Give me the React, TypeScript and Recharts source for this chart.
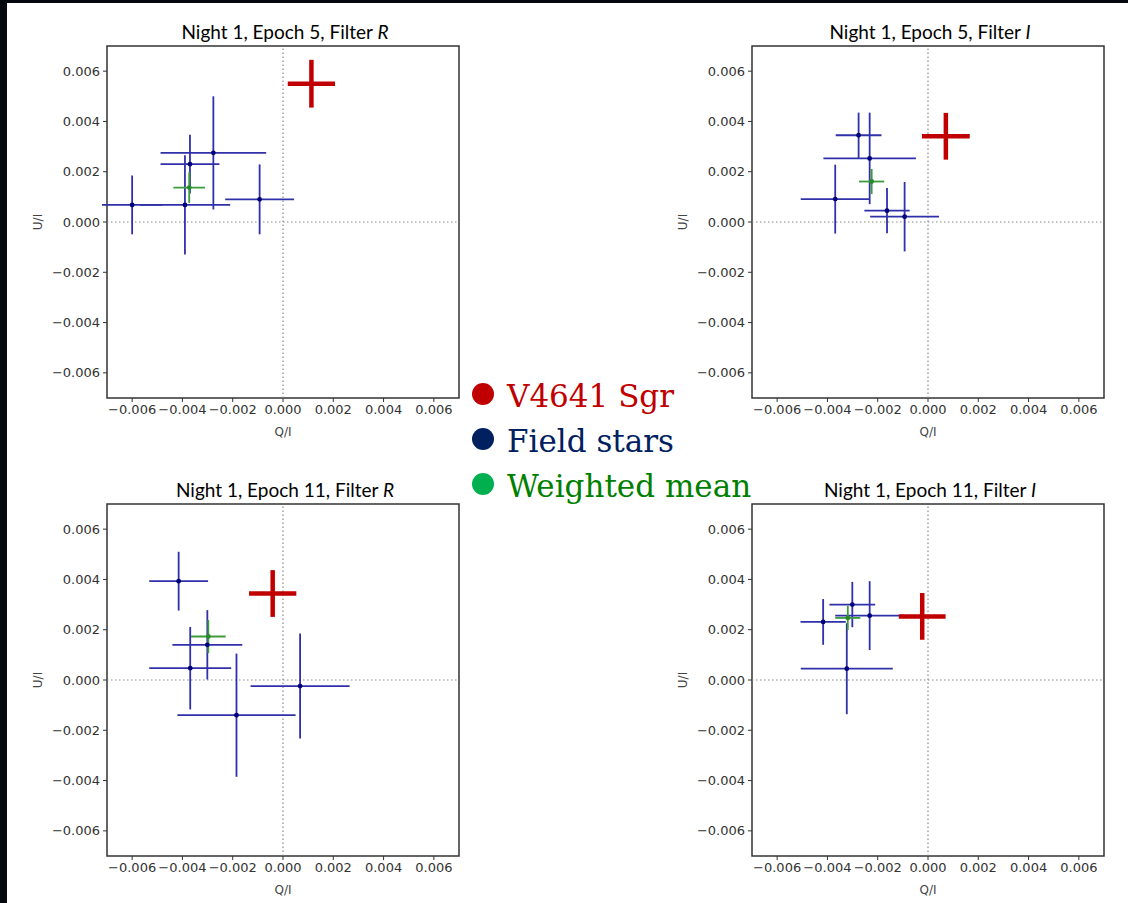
import React from 'react';
import {
  ScatterChart,
  Scatter,
  XAxis,
  YAxis,
  ErrorBar,
  ReferenceLine,
  ReferenceArea,
} from 'recharts';

// Night 1, Epoch 5, Filter R
const r5FieldQ = [-0.006, -0.0039, -0.0037, -0.00277, -0.00093];
const r5FieldU = [0.00068, 0.00068, 0.0023, 0.00275, 0.0009];
const r5FieldQErr = [0.0012, 0.0018, 0.00117, 0.0021, 0.00137];
const r5FieldUErr = [0.00117, 0.00197, 0.00117, 0.00225, 0.00139];
const r5Mean = [-0.00373, 0.00137, 0.00063, 0.00061];
const r5Target = [0.00113, 0.0055, 0.00094, 0.00095];

// Night 1, Epoch 5, Filter I
const i5FieldQ = [-0.00276, -0.00232, -0.00369, -0.00163, -0.00093];
const i5FieldU = [0.00345, 0.00253, 0.00091, 0.00045, 0.00021];
const i5FieldQErr = [0.00091, 0.00184, 0.00137, 0.0009, 0.00137];
const i5FieldUErr = [0.0009, 0.00182, 0.00137, 0.0009, 0.00138];
const i5Mean = [-0.00224, 0.00161, 0.0005, 0.0005];
const i5Target = [0.00071, 0.00341, 0.00095, 0.00093];

// Night 1, Epoch 11, Filter R
const r11FieldQ = [-0.00415, -0.00301, -0.00369, -0.00185, 0.00068];
const r11FieldU = [0.00393, 0.0014, 0.00047, -0.0014, -0.00024];
const r11FieldQErr = [0.00117, 0.00139, 0.00163, 0.00235, 0.00197];
const r11FieldUErr = [0.00117, 0.00138, 0.00164, 0.00245, 0.00209];
const r11Mean = [-0.00297, 0.00173, 0.00069, 0.00066];
const r11Target = [-0.00041, 0.00344, 0.00094, 0.00093];

// Night 1, Epoch 11, Filter I
const i11FieldQ = [-0.00417, -0.00301, -0.00232, -0.00323];
const i11FieldU = [0.00231, 0.003, 0.00256, 0.00045];
const i11FieldQErr = [0.0009, 0.00091, 0.00137, 0.00183];
const i11FieldUErr = [0.00091, 0.0009, 0.00137, 0.00181];
const i11Mean = [-0.00319, 0.00247, 0.0005, 0.00048];
const i11Target = [-0.00023, 0.00253, 0.00093, 0.00093];

const axisTicks = [-0.006, -0.004, -0.002, 0, 0.002, 0.004, 0.006];
const legendLabels = ['V4641 Sgr', 'Field stars', 'Weighted mean'];

const zip = (q: number[], u: number[], qe: number[], ue: number[]) =>
  q.map((v, i) => ({ q: v, u: u[i], qe: qe[i], ue: ue[i] }));
const single = (a: number[]) => [{ q: a[0], u: a[1], qe: a[2], ue: a[3] }];

const fmt = (v: number) => (v < 0 ? '\u2212' : '') + Math.abs(v).toFixed(3);

const PLOT = 352;
const tickStyle = { fill: '#333', fontSize: 13, fontFamily: 'DejaVu Sans' };

const dot = (color: string, r: number) => (p: any) =>
  <circle cx={p.cx} cy={p.cy} r={r} fill={color} />;

function Panel({ x, y, field, mean, target }: any) {
  return (
    <div style={{ position: 'absolute', left: x - 100, top: y - 10 }}>
      <ScatterChart
        width={100 + PLOT + 10}
        height={10 + PLOT + 50}
        margin={{ top: 10, right: 10, bottom: 5, left: 25 }}
      >
        <XAxis
          type="number"
          dataKey="q"
          domain={[-0.007, 0.007]}
          allowDataOverflow
          ticks={axisTicks}
          interval={0}
          tickFormatter={fmt}
          axisLine={false}
          tickLine={{ stroke: '#333' }}
          tickSize={4}
          tickMargin={3}
          tick={tickStyle}
          height={45}
        />
        <YAxis
          type="number"
          dataKey="u"
          domain={[-0.007, 0.007]}
          allowDataOverflow
          ticks={axisTicks}
          interval={0}
          tickFormatter={fmt}
          axisLine={false}
          tickLine={{ stroke: '#333' }}
          tickSize={4}
          tickMargin={3}
          tick={tickStyle}
          width={75}
        />
        <ReferenceLine x={0} stroke="#8a8a8a" strokeWidth={1.2} strokeDasharray="1.5 2.5" />
        <ReferenceLine y={0} stroke="#8a8a8a" strokeWidth={1.2} strokeDasharray="1.5 2.5" />
        <ReferenceArea
          x1={-0.007}
          x2={0.007}
          y1={-0.007}
          y2={0.007}
          fill="none"
          stroke="#333"
          strokeWidth={1.5}
        />
        <Scatter data={field} isAnimationActive={false} shape={dot('#00007a', 2.4)}>
          <ErrorBar dataKey="qe" direction="x" width={0} stroke="#3030aa" strokeWidth={1.8} />
          <ErrorBar dataKey="ue" direction="y" width={0} stroke="#3030aa" strokeWidth={1.8} />
        </Scatter>
        <Scatter data={mean} isAnimationActive={false} shape={dot('#2a8a2a', 2.4)}>
          <ErrorBar dataKey="qe" direction="x" width={0} stroke="#3c9c3c" strokeWidth={1.8} />
          <ErrorBar dataKey="ue" direction="y" width={0} stroke="#3c9c3c" strokeWidth={1.8} />
        </Scatter>
        <Scatter data={target} isAnimationActive={false} shape={dot('#c00000', 2)}>
          <ErrorBar dataKey="qe" direction="x" width={0} stroke="#c00000" strokeWidth={4.5} />
          <ErrorBar dataKey="ue" direction="y" width={0} stroke="#c00000" strokeWidth={4.5} />
        </Scatter>
      </ScatterChart>
    </div>
  );
}

const panels = [
  { x: 107, y: 46, title: 'Night 1, Epoch 5, Filter ', filt: 'R', field: zip(r5FieldQ, r5FieldU, r5FieldQErr, r5FieldUErr), mean: single(r5Mean), target: single(r5Target) },
  { x: 752, y: 46, title: 'Night 1, Epoch 5, Filter ', filt: 'I', field: zip(i5FieldQ, i5FieldU, i5FieldQErr, i5FieldUErr), mean: single(i5Mean), target: single(i5Target) },
  { x: 107, y: 504, title: 'Night 1, Epoch 11, Filter ', filt: 'R', field: zip(r11FieldQ, r11FieldU, r11FieldQErr, r11FieldUErr), mean: single(r11Mean), target: single(r11Target) },
  { x: 752, y: 504, title: 'Night 1, Epoch 11, Filter ', filt: 'I', field: zip(i11FieldQ, i11FieldU, i11FieldQErr, i11FieldUErr), mean: single(i11Mean), target: single(i11Target) },
];

const legendColors = ['#c00000', '#002060', '#008000'];
const bulletColors = ['#c00000', '#002060', '#00b050'];

export default function App() {
  return (
    <div style={{ position: 'fixed', left: 0, top: 0, width: 1128, height: 903, background: '#05080f', overflow: 'hidden' }}>
      <div style={{ position: 'absolute', left: 7, top: 3, width: 1121, height: 900, background: '#fff' }} />
      {panels.map((p, i) => (
        <Panel key={i} x={p.x} y={p.y} field={p.field} mean={p.mean} target={p.target} />
      ))}
      <svg width={1128} height={903} style={{ position: 'absolute', left: 0, top: 0, pointerEvents: 'none' }}>
        {panels.map((p, i) => (
          <g key={i}>
            <text
              x={p.x + PLOT / 2 + 2}
              y={p.y - 7}
              textAnchor="middle"
              fontFamily="Lato"
              fontSize={19}
              fill="#000"
            >
              {p.title}
              <tspan fontStyle="italic">{p.filt}</tspan>
            </text>
            <text
              x={p.x + PLOT / 2}
              y={p.y + PLOT + 38}
              textAnchor="middle"
              fontFamily="DejaVu Sans"
              fontSize={12}
              fill="#444"
            >
              Q/I
            </text>
            <text
              transform={`translate(${p.x - 65},${p.y + PLOT / 2}) rotate(-90)`}
              textAnchor="middle"
              fontFamily="DejaVu Sans"
              fontSize={12}
              fill="#444"
            >
              U/I
            </text>
          </g>
        ))}
        {legendLabels.map((l, i) => (
          <g key={l}>
            <circle cx={483} cy={394 + i * 45} r={11} fill={bulletColors[i]} />
            <text x={507} y={407 + i * 45} fontFamily="DejaVu Serif" fontSize={31} fill={legendColors[i]}>
              {l}
            </text>
          </g>
        ))}
      </svg>
    </div>
  );
}
